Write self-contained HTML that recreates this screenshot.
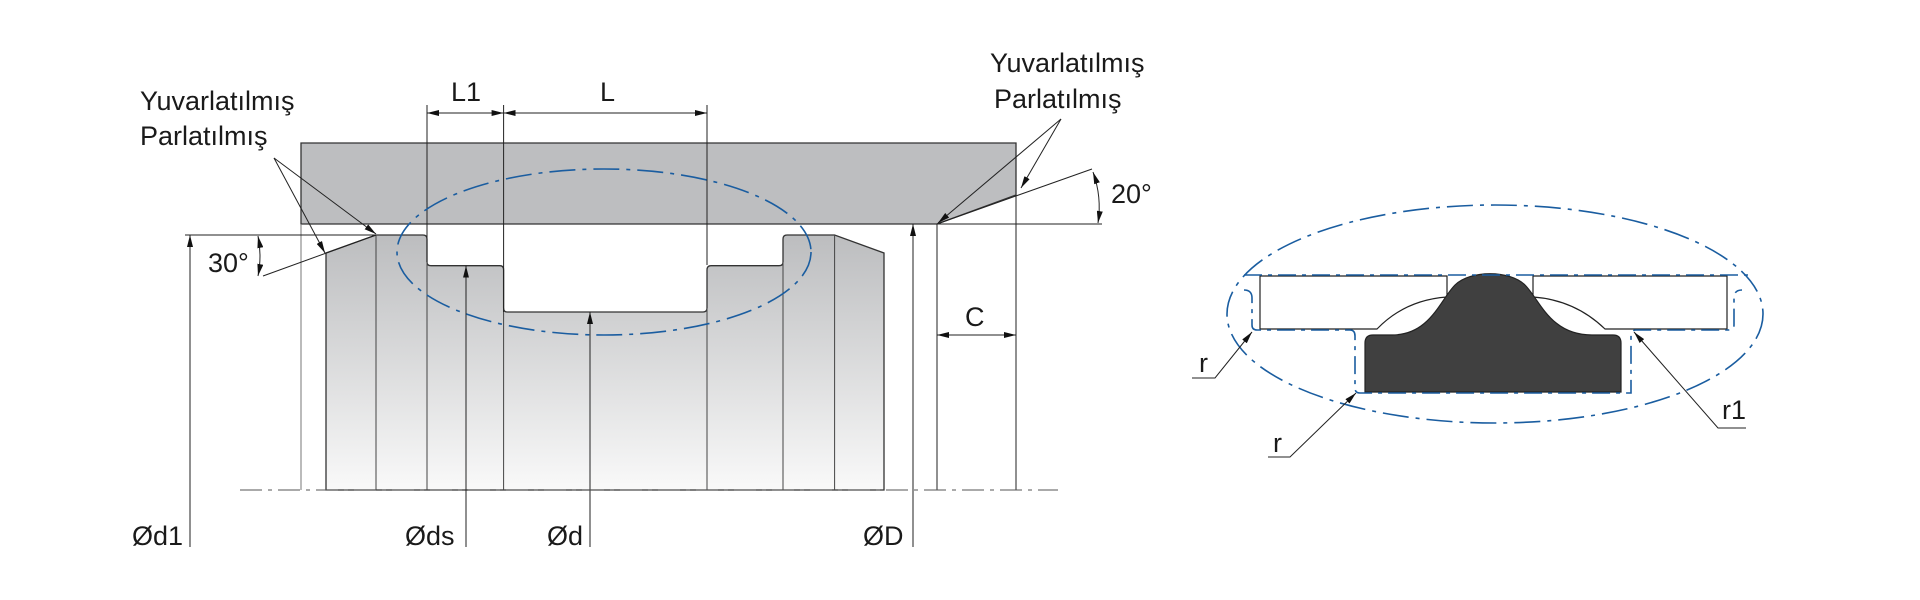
<!DOCTYPE html>
<html><head><meta charset="utf-8"><style>
html,body{margin:0;padding:0;background:#fff;width:1920px;height:600px;overflow:hidden}
svg{display:block}
text{font-family:"Liberation Sans",sans-serif;fill:#1a1a1a}
</style></head><body>
<svg width="1920" height="600" viewBox="0 0 1920 600" xmlns="http://www.w3.org/2000/svg">
<defs>
<linearGradient id="g" x1="0" y1="0" x2="0" y2="1">
<stop offset="0" stop-color="#bcbdbf"/><stop offset="1" stop-color="#f9f9f9"/>
</linearGradient>
<marker id="a" viewBox="0 0 12 6" refX="12" refY="3" markerWidth="12" markerHeight="6" orient="auto-start-reverse" markerUnits="userSpaceOnUse">
<path d="M0,0 L12,3 L0,6 Z" fill="#111"/></marker>
</defs>

<!-- rod -->
<path d="M326,490 L326,253 L376,235 L423,235 Q427,235 427,239 L427,262 Q427,265.7 431,265.7 L500,265.7 Q503.6,265.7 503.6,270 L503.6,308 Q503.6,312 507,312 L703,312 Q707,312 707,308 L707,270 Q707,265.7 711,265.7 L779,265.7 Q783,265.7 783,262 L783,239 Q783,235 787,235 L834.6,235 L884,253 L884,490 Z" fill="url(#g)" stroke="#333" stroke-width="1.3"/>
<g stroke="#444" stroke-width="1">
<line x1="376" y1="235" x2="376" y2="490"/><line x1="427" y1="262" x2="427" y2="490"/>
<line x1="503.6" y1="308" x2="503.6" y2="490"/><line x1="707" y1="308" x2="707" y2="490"/>
<line x1="783" y1="262" x2="783" y2="490"/><line x1="834.6" y1="235" x2="834.6" y2="490"/>
</g>
<!-- housing -->
<path d="M301,143 L1016,143 L1016,195 L937,224 L301,224 Z" fill="#bdbec0" stroke="#333" stroke-width="1.3"/>
<!-- extension lines -->
<g stroke="#222" stroke-width="1" fill="none">
<line x1="301" y1="224" x2="301" y2="490" stroke="#777"/>
<line x1="427" y1="105" x2="427" y2="262"/>
<line x1="503.6" y1="105" x2="503.6" y2="312"/>
<line x1="707" y1="105" x2="707" y2="265"/>
<line x1="937" y1="224" x2="937" y2="490"/>
<line x1="1016" y1="195" x2="1016" y2="490"/>
<line x1="937" y1="224" x2="1102" y2="224"/>
<line x1="937" y1="224" x2="1092" y2="169"/>
<line x1="185" y1="235" x2="376" y2="235"/>
<line x1="376" y1="235" x2="263" y2="276"/>
<!-- dims -->
<line x1="427" y1="113" x2="503.6" y2="113" marker-start="url(#a)" marker-end="url(#a)"/>
<line x1="503.6" y1="113" x2="707" y2="113" marker-start="url(#a)" marker-end="url(#a)"/>
<line x1="937" y1="335" x2="1016" y2="335" marker-start="url(#a)" marker-end="url(#a)"/>
<line x1="190" y1="547" x2="190" y2="235" marker-end="url(#a)"/>
<line x1="466" y1="547" x2="466" y2="265.7" marker-end="url(#a)"/>
<line x1="590" y1="547" x2="590" y2="312" marker-end="url(#a)"/>
<line x1="913" y1="547" x2="913" y2="224" marker-end="url(#a)"/>
<path d="M258,236 Q262,256 258,276" marker-start="url(#a)" marker-end="url(#a)"/>
<path d="M1093,172 Q1102,197 1098,223" marker-start="url(#a)" marker-end="url(#a)"/>
<!-- leaders -->
<line x1="274" y1="158" x2="376" y2="234" marker-end="url(#a)"/>
<line x1="274" y1="158" x2="325" y2="253" marker-end="url(#a)"/>
<line x1="1061" y1="119" x2="938" y2="223" marker-end="url(#a)"/>
<line x1="1061" y1="119" x2="1021" y2="188" marker-end="url(#a)"/>
</g>
<!-- centre line -->
<line x1="240" y1="490" x2="1058" y2="490" stroke="#555" stroke-width="1" stroke-dasharray="22,6,4,6"/>
<!-- ellipse -->
<ellipse cx="604" cy="252" rx="207" ry="83" fill="none" stroke="#1a5da0" stroke-width="1.6" stroke-dasharray="26,7,4,7"/>

<g font-size="27">
<text x="140" y="110">Yuvarlatılmış</text>
<text x="140" y="145">Parlatılmış</text>
<text x="990" y="72">Yuvarlatılmış</text>
<text x="994" y="108">Parlatılmış</text>
<text x="208" y="272">30°</text>
<text x="1111" y="203">20°</text>
<text x="451" y="101">L1</text>
<text x="600" y="101">L</text>
<text x="965" y="326">C</text>
<text x="132" y="545">Ød1</text>
<text x="405" y="545">Øds</text>
<text x="547" y="545">Ød</text>
<text x="863" y="545">ØD</text>
<text x="1199" y="372">r</text>
<text x="1273" y="452">r</text>
<text x="1722" y="419">r1</text>
</g>

<!-- right detail -->
<ellipse cx="1495" cy="314" rx="268" ry="109" fill="none" stroke="#1a5da0" stroke-width="1.6" stroke-dasharray="26,7,4,7"/>
<path d="M1260,276 L1447,276 L1447,297 Q1405,300 1377,329 L1260,329 Z" fill="#fff" stroke="#222" stroke-width="1.2"/>
<path d="M1727,276 L1533,276 L1533,297 Q1575,300 1605,329 L1727,329 Z" fill="#fff" stroke="#222" stroke-width="1.2"/>
<path d="M1365,343 Q1365,335 1373,335 L1392,335 C1430,335 1440,300 1455,285 C1470,270 1510,270 1525,285 C1540,300 1550,335 1592,335 L1613,335 Q1621,335 1621,343 L1621,392 L1365,392 Z" fill="#404040" stroke="#222" stroke-width="1.2"/>
<g fill="none" stroke="#1a5da0" stroke-width="1.6" stroke-dasharray="18,6,4,6">
<line x1="1244" y1="275" x2="1748" y2="275"/>
<path d="M1244,290 Q1252,290 1252,298 L1252,325 Q1252,330 1257,330 L1350,330 Q1355,330 1355,336 L1355,388 Q1355,393 1360,393 L1626,393 L1631,393 L1631,336 Q1631,330 1636,330 L1728,330 Q1734,330 1734,325 L1734,298 Q1734,290 1742,290"/>
</g>
<g stroke="#222" stroke-width="1" fill="none">
<polyline points="1192,378 1215,378 1252,332" marker-end="url(#a)"/>
<polyline points="1268,457 1290,457 1356,393" marker-end="url(#a)"/>
<polyline points="1746,428 1718,428 1634,332" marker-end="url(#a)"/>
</g>
</svg>
</body></html>
